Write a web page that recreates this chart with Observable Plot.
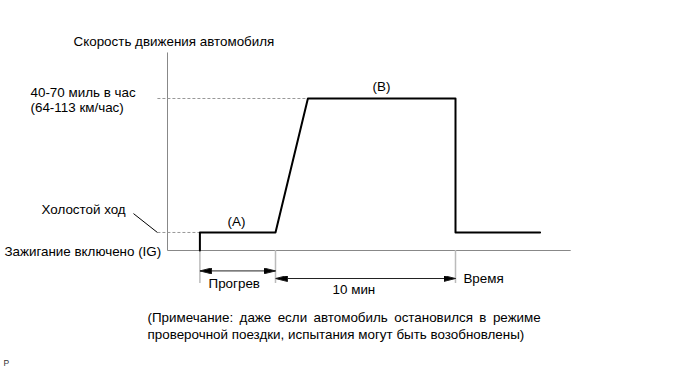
<!DOCTYPE html>
<html>
<head>
<meta charset="utf-8">
<script src="https://cdn.jsdelivr.net/npm/d3@7"></script>
<script src="https://cdn.jsdelivr.net/npm/@observablehq/plot@0.6"></script>
<style>
  html, body { margin: 0; padding: 0; background: #fff; }
  #chart svg { display: block; }
</style>
</head>
<body>
<div id="chart"></div>
<script>
// ---- data (time in minutes-like units, speed in mph-like units) ----
const profileTime  = [1.8, 1.8, 6.0, 7.8, 16.0, 16.0, 20.7];
const profileSpeed = [0, 8.3, 8.3, 70, 70, 8.3, 8.3];

const idleSpeed = 8.3;
const highSpeed = 70;
const axisEndTime = 22.4;
const axisTopSpeed = 91.2;
const guideStart = -0.56;

const markTimes = [1.8, 6.0, 16.0];         // ignition, warm-up end, 10-min end
const extensionBottom = -15.2;
const spans = [
  {t1: 1.8, t2: 6.0, s: -9.4},
  {t1: 6.0, t2: 16.0, s: -12.9}
];
const leader = {t1: -1.89, s1: 17.0, t2: guideStart, s2: idleSpeed};

const noteLine1 = "(Примечание: даже если автомобиль остановился в режиме".split(" ").join("\u2009 ");
const startLabels = [
  {t: -5.22, s: 96.25, text: "Скорость движения автомобиля"},
  {t: -7.61, s: 72.76, text: "40-70 миль в час"},
  {t: -7.61, s: 65.62, text: "(64-113 км/час)"},
  {t: -7.0,  s: 18.88, text: "Холостой ход"},
  {t: -9.06, s: -0.46, text: "Зажигание включено (IG)"},
  {t: 2.28,  s: -15.2, text: "Прогрев"},
  {t: 9.17,  s: -17.96, text: "10 мин"},
  {t: 16.44, s: -12.89, text: "Время"},
  {t: -1.11, s: -30.86, text: noteLine1},
  {t: -1.11, s: -38.68, text: "проверочной поездки, испытания могут быть возобновлены)"}
];
const phaseLabels = [
  {t: 3.83,  s: 13.36, text: "(A)"},
  {t: 11.89, s: 75.53, text: "(B)"}
];
const footnote = [{t: -9.11, s: -52.0, text: "P"}];

const profile = profileTime.map((t, i) => ({t, s: profileSpeed[i]}));

function filledArrow(color) {
  const m = d3.create("svg:marker")
    .attr("viewBox", "0 -3 12 6")
    .attr("markerWidth", 12)
    .attr("markerHeight", 6)
    .attr("markerUnits", "userSpaceOnUse")
    .attr("refX", 12)
    .attr("refY", 0)
    .attr("orient", "auto-start-reverse");
  m.append("path").attr("d", "M0,-3L12,0L0,3Z").attr("fill", "#000");
  return m.node();
}

const chart = Plot.plot({
  width: 691,
  height: 370,
  margin: 0,
  x: {domain: [0, 10], range: [167, 347], axis: null},
  y: {domain: [0, 70], range: [250, 98], axis: null},
  style: {fontFamily: "'Liberation Sans', Arial, sans-serif", fontSize: "13.4px", background: "#fff", color: "#000"},
  marks: [
    // axes
    Plot.link([{}], {x1: 0, x2: axisEndTime, y1: 0, y2: 0, stroke: "#888", strokeWidth: 1}),
    Plot.link([{}], {x1: 0, x2: 0, y1: 0, y2: axisTopSpeed, stroke: "#888", strokeWidth: 1}),
    // dashed guides
    Plot.link([{}], {x1: guideStart, x2: profileTime[3], y1: highSpeed, y2: highSpeed, stroke: "#999", strokeDasharray: "3,2"}),
    Plot.link([{}], {x1: guideStart, x2: profileTime[1], y1: idleSpeed, y2: idleSpeed, stroke: "#999", strokeDasharray: "3,2"}),
    // leader
    Plot.link([leader], {x1: "t1", y1: "s1", x2: "t2", y2: "s2", stroke: "#000", strokeWidth: 1}),
    // extension lines
    Plot.ruleX(markTimes, {x: d => d, y1: 0, y2: extensionBottom, stroke: "#bbb", strokeWidth: 1.5}),
    // dimension arrows
    Plot.link(spans, {x1: "t1", x2: "t2", y1: "s", y2: "s", stroke: "#222", strokeWidth: 1,
      markerStart: filledArrow, markerEnd: filledArrow}),
    // profile
    Plot.line(profile, {x: "t", y: "s", stroke: "#000", strokeWidth: 2, curve: "linear"}),
    // labels
    Plot.text(startLabels, {x: "t", y: "s", text: "text", textAnchor: "start", fill: "#000"}),
    Plot.text(phaseLabels, {x: "t", y: "s", text: "text", textAnchor: "middle", fill: "#000"}),
    Plot.text(footnote, {x: "t", y: "s", text: "text", textAnchor: "start", fill: "#333", fontSize: 8.5})
  ]
});
document.getElementById("chart").appendChild(chart);
</script>
</body>
</html>
